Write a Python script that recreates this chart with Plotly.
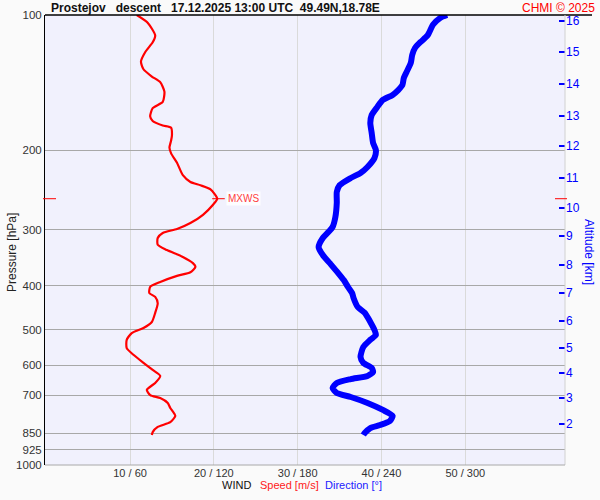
import math
import plotly.graph_objects as go

# ---------------- data ----------------
speed_p = [100, 104, 111, 115, 121, 127, 132, 137, 141, 148, 156, 161, 168, 172, 176, 178, 185, 190, 197, 203,
           213, 227, 235, 239, 244, 256, 264, 278, 290, 299, 305, 313, 324, 333, 345, 356, 363, 373, 380, 392,
           402, 415, 423, 437, 459, 481, 496, 509, 527, 550, 569, 593, 615, 634, 657, 681, 699, 710, 728, 747,
           778, 803, 823, 845, 858]
speed_ms = [10.8, 12.1, 13.0, 12.7, 11.8, 11.3, 11.6, 12.6, 13.6, 14.1, 13.9, 12.7, 12.4, 12.7, 13.9, 14.9, 15.0, 14.9, 14.7, 14.9,
            15.6, 16.3, 17.2, 18.4, 19.6, 20.4, 19.9, 18.7, 17.2, 15.6, 13.9, 13.3, 13.3, 14.4, 16.3, 17.5, 17.8, 17.2, 15.6, 13.6,
            12.4, 12.3, 13.0, 13.3, 13.0, 12.6, 11.6, 10.2, 9.6, 9.6, 10.4, 11.6, 12.7, 13.6, 13.0, 12.0, 12.4, 13.6, 14.5, 14.8,
            15.4, 14.8, 13.3, 12.7, 12.6]

dir_p = [100, 101.5, 105, 111, 114.8, 118.4, 122.7, 127.8, 133.8, 138, 143.1, 146.8, 150.5, 154.4, 160.1, 166.8, 173.8, 182.9, 192.5, 199.5,
         207.8, 217.6, 224.4, 230.3, 239, 247.4, 261.6, 281.1, 295.9, 303.6, 313, 327.9, 341.5, 356, 374.5, 388.2, 402, 415, 425.4, 445.6,
         459, 481, 501.2, 514.1, 527, 546.6, 575.4, 593, 608.6, 621.3, 634, 644.2, 657, 674.4, 691.8, 706.1, 728, 754.6, 778, 798.3,
         814.9, 827.6, 848.8, 858]
dir_deg = [287, 282, 277, 273, 268, 264, 262, 261, 258, 256, 255, 252, 248, 241, 237, 233, 232, 233, 234, 236,
           235, 230, 225, 218, 210, 208, 208, 207, 205, 202, 198, 195, 198, 203, 209, 213, 216, 219, 220, 223,
           228, 232, 235, 236, 232, 227, 225, 227, 233, 234, 230, 218, 208, 205, 208, 218, 230, 241, 248, 246,
           239, 232, 228, 227]

p_ticks = [100, 200, 300, 400, 500, 600, 700, 850, 925, 1000]
alt_km = [16, 15, 14, 13, 12, 11, 10, 9, 8, 7, 6, 5, 4, 3, 2]
alt_p = [103.1, 120.8, 142.4, 167.6, 195.5, 230.3, 268.5, 309.8, 359.4, 414.7, 478.6, 549.5, 624.6, 709.8, 810.7]

wind_ticks = [10, 20, 30, 40, 50]
wind_labels = ["10 / 60", "20 / 120", "30 / 180", "40 / 240", "50 / 300"]

mxws_p = 256
mxws_speed = 20.4

title_text = "Prostejov&nbsp;&nbsp;&nbsp;descent&nbsp;&nbsp;&nbsp;17.12.2025 13:00 UTC&nbsp;&nbsp;49.49N,18.78E"

# ---------------- figure ----------------
FONT = "Liberation Sans, Arial, sans-serif"
spd_range = [-0.15, 61.9]
dir_range = [spd_range[0] * 6, spd_range[1] * 6]
L, R, T, B, W, H = 45, 35, 15, 35, 600, 500
PW, PH = W - L - R, H - T - B

def px_x(x):
    return (x - L) / PW

def px_y(y):
    return (H - B - y) / PH

def py(p):
    # paper y for a pressure on the reversed log axis [1000 -> 100]
    return 3 - math.log10(p)

fig = go.Figure()
fig.add_trace(go.Scatter(x=dir_deg, y=dir_p, mode="lines", xaxis="x2", yaxis="y",
                         line=dict(color="#0000ff", width=6, shape="spline", smoothing=0.6),
                         hoverinfo="skip", showlegend=False))
fig.add_trace(go.Scatter(x=speed_ms, y=speed_p, mode="lines", xaxis="x", yaxis="y",
                         line=dict(color="#ff0000", width=2.2, shape="spline", smoothing=0.6),
                         hoverinfo="skip", showlegend=False))
fig.add_trace(go.Scatter(x=[None], y=[None], xaxis="x", yaxis="y2", showlegend=False, hoverinfo="skip"))

fig.update_layout(
    width=W, height=H,
    margin=dict(l=L, r=R, t=T, b=B, pad=0),
    paper_bgcolor="#fafafa", plot_bgcolor="#f1f1fd",
    font=dict(family=FONT, size=11, color="#333333"),
    xaxis=dict(range=spd_range, tickvals=wind_ticks, ticktext=wind_labels, showgrid=True,
               gridcolor="#dadada", gridwidth=1, zeroline=False, showline=False, ticks="",
               automargin=False, tickfont=dict(size=11, color="#333333")),
    xaxis2=dict(range=dir_range, overlaying="x", visible=False),
    yaxis=dict(type="log", range=[3, 2], tickvals=p_ticks, ticktext=[str(v) for v in p_ticks],
               showgrid=True, gridcolor="#a8a8a8", gridwidth=1, zeroline=False, showline=True,
               linecolor="#000000", linewidth=1, ticks="", automargin=False,
               tickfont=dict(size=11.5, color="#333333")),
    yaxis2=dict(type="log", range=[3, 2], overlaying="y", side="right", tickvals=alt_p,
                ticktext=[str(v) for v in alt_km], showgrid=False, zeroline=False, showline=False,
                ticks="inside", ticklen=6, tickwidth=1.5, tickcolor="#0000ff", automargin=False,
                tickfont=dict(size=12, color="#0000ff")),
    shapes=[
        dict(type="line", xref="paper", yref="paper", x0=0, x1=px_x(592), y0=1, y1=1,
             line=dict(color="#000000", width=1.5)),
        dict(type="line", xref="paper", yref="paper", x0=1, x1=1, y0=0, y1=1,
             line=dict(color="#d0d0d0", width=1)),
        dict(type="line", xref="paper", yref="paper", x0=0, x1=1, y0=0, y1=0,
             line=dict(color="#a8a8a8", width=1)),
        dict(type="line", xref="paper", yref="paper", x0=px_x(43), x1=px_x(56), y0=py(mxws_p), y1=py(mxws_p),
             line=dict(color="#ff0000", width=1)),
        dict(type="line", xref="paper", yref="paper", x0=px_x(555), x1=px_x(567), y0=py(mxws_p), y1=py(mxws_p),
             line=dict(color="#ff0000", width=1)),
        dict(type="line", xref="x", yref="paper", x0=mxws_speed - 0.6, x1=mxws_speed + 0.9,
             y0=py(mxws_p), y1=py(mxws_p), line=dict(color="#ff0000", width=1)),
    ],
    annotations=[
        dict(text="<b>" + title_text + "</b>", xref="paper", yref="paper", x=px_x(49), y=px_y(8),
             xanchor="left", yanchor="middle", showarrow=False, font=dict(size=12, color="#111111")),
        dict(text="CHMI © 2025", xref="paper", yref="paper", x=px_x(597), y=px_y(8),
             xanchor="right", yanchor="middle", showarrow=False, font=dict(size=12, color="#ff0000")),
        dict(text="MXWS", xref="x", yref="paper", x=mxws_speed + 1.1, y=py(mxws_p),
             xanchor="left", yanchor="middle", showarrow=False, bgcolor="rgba(255,255,255,0.85)",
             font=dict(size=10, color="#ff4040")),
        dict(text="Pressure [hPa]", xref="paper", yref="paper", x=px_x(12), y=px_y(253), textangle=-90,
             xanchor="center", yanchor="middle", showarrow=False, font=dict(size=12, color="#222222")),
        dict(text="Altitude [km]", xref="paper", yref="paper", x=px_x(589), y=px_y(252), textangle=90,
             xanchor="center", yanchor="middle", showarrow=False, font=dict(size=12, color="#0000ff")),
        dict(text="WIND", xref="paper", yref="paper", x=px_x(220), y=px_y(485),
             xanchor="left", yanchor="middle", showarrow=False, font=dict(size=11, color="#111111")),
        dict(text="Speed [m/s]", xref="paper", yref="paper", x=px_x(258), y=px_y(485),
             xanchor="left", yanchor="middle", showarrow=False, font=dict(size=11, color="#ff2020")),
        dict(text="Direction [°]", xref="paper", yref="paper", x=px_x(323), y=px_y(485),
             xanchor="left", yanchor="middle", showarrow=False, font=dict(size=11, color="#2020ff")),
    ],
)

fig.write_html("out.html", config={"displayModeBar": False},
               post_script="document.body.style.margin='0';document.body.style.overflow='hidden';")
